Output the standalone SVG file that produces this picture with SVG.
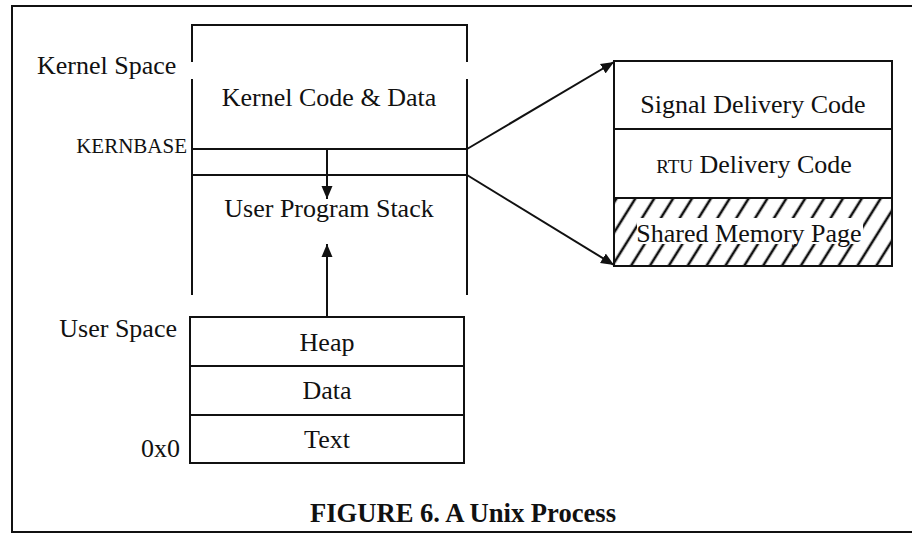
<svg xmlns="http://www.w3.org/2000/svg" width="912" height="534" viewBox="0 0 912 534">
<style>
  text { font-family: "Liberation Serif", "Times New Roman", serif; fill: #111; }
  .t { font-size: 26px; }
  .c { text-anchor: middle; }
  .r { text-anchor: end; }
  .ln { stroke: #111; stroke-width: 2; fill: none; }
  .box { stroke: #111; stroke-width: 2; fill: #fff; }
  .arr { stroke: #111; stroke-width: 2; fill: none; marker-end: url(#ah); }
</style>
<defs>
  <marker id="ah" markerUnits="userSpaceOnUse" markerWidth="14" markerHeight="12" refX="13" refY="6" orient="auto">
    <path d="M0,0.5 L13,6 L0,11.5 z" fill="#111"/>
  </marker>
  <pattern id="hatch" patternUnits="userSpaceOnUse" width="16" height="16" patternTransform="rotate(32)">
    <line x1="4" y1="0" x2="4" y2="16" stroke="#111" stroke-width="2.6"/>
  </pattern>
</defs>
<rect width="912" height="534" fill="#fff"/>
<g id="frame">
  <path class="ln" d="M912,6 L12,6 L12,532 L912,532" stroke-width="1.8"/>
</g>
<g id="labels">
  <text class="t" x="37" y="74">Kernel Space</text>
  <text class="r" x="187" y="153" font-size="21">KERNBASE</text>
  <text class="t r" x="177" y="337">User Space</text>
  <text class="t r" x="180" y="457">0x0</text>
</g>
<g id="address-space">
  <path class="ln" d="M192,62 L192,25 L467,25 L467,62"/>
  <path class="ln" d="M192,79 L192,295 M467,79 L467,295"/>
  <line class="ln" x1="192" y1="149" x2="467" y2="149" stroke-width="2.4"/>
  <line class="ln" x1="192" y1="175" x2="467" y2="175"/>
  <text class="t c" x="329" y="106">Kernel Code &amp; Data</text>
  <text class="t c" x="329" y="217">User Program Stack</text>
</g>
<g id="user-segments">
  <rect class="box" x="190" y="317" width="274" height="146"/>
  <line class="ln" x1="190" y1="366" x2="464" y2="366" stroke-width="2.4"/>
  <line class="ln" x1="190" y1="415" x2="464" y2="415"/>
  <text class="t c" x="327" y="351">Heap</text>
  <text class="t c" x="327" y="399">Data</text>
  <text class="t c" x="327" y="448">Text</text>
</g>
<g id="kernel-pages">
  <rect class="box" x="614" y="61" width="278" height="205"/>
  <rect x="614" y="198" width="278" height="68" fill="url(#hatch)"/>
  <rect x="637" y="218" width="226" height="26" fill="#fff"/>
  <rect x="614" y="61" width="278" height="205" class="ln"/>
  <line class="ln" x1="614" y1="129" x2="892" y2="129"/>
  <line class="ln" x1="614" y1="198" x2="892" y2="198"/>
  <text class="t c" x="753" y="113">Signal Delivery Code</text>
  <text class="t c" x="754" y="173"><tspan font-size="19">RTU</tspan> Delivery Code</text>
  <text class="t c" x="749" y="242">Shared Memory Page</text>
</g>
<g id="connectors">
  <line class="arr" x1="327" y1="149" x2="327" y2="199"/>
  <line class="arr" x1="327" y1="317" x2="327" y2="244"/>
  <line class="arr" x1="467" y1="149" x2="614" y2="62"/>
  <line class="arr" x1="467" y1="175" x2="614" y2="265"/>
</g>
<g id="caption">
  <text x="463" y="522" font-size="26.6" font-weight="bold" text-anchor="middle">FIGURE 6. A Unix Process</text>
</g>
</svg>
